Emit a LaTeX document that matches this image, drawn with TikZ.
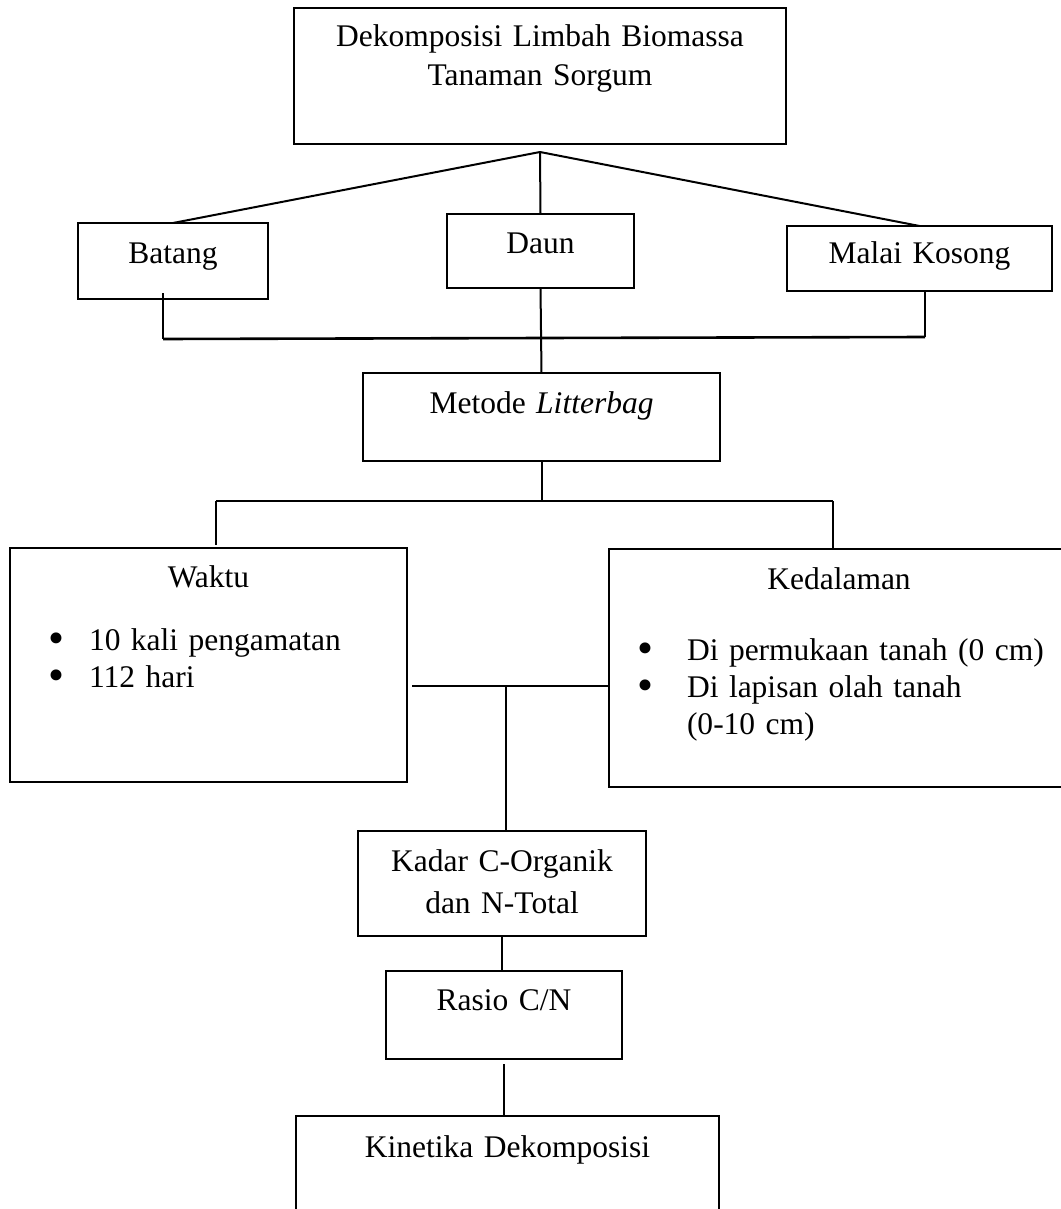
\documentclass[tikz,border=0pt]{standalone}
\usepackage{fontspec}
\setmainfont{Liberation Serif}
\newcommand{\titik}{\smash{\raisebox{-3pt}{\scalebox{1.45}{\textbullet}}}}

\begin{document}
\begin{tikzpicture}[x=1pt,y=-1pt,
kotak/.style={draw,line width=1.6pt,inner sep=0pt,outer sep=0pt,anchor=north west,align=center,font=\fontsize{31.5}{39}\selectfont},
daftar/.style={kotak,align=left,font=\fontsize{31.5}{37}\selectfont},
garis/.style={line width=2pt},
jalur/.style={line width=2.6pt}]
\useasboundingbox (0,0) rectangle (1060,1209);
\node[kotak,text width=492pt,text height=39pt,text depth=97pt] (limbah) at (294,8) {Dekomposisi Limbah Biomassa\\Tanaman Sorgum};
\node[kotak,text width=190pt,text height=40pt,text depth=36pt] (batang) at (78,223) {Batang};
\node[kotak,text width=187pt,text height=39pt,text depth=35pt] (daun) at (447,214) {Daun};
\node[kotak,text width=265pt,text height=37pt,text depth=28pt] (malai) at (787,226) {Malai Kosong};
\node[kotak,text width=357pt,text height=40pt,text depth=48pt] (metode) at (363,373) {Metode \textit{Litterbag}};
\node[daftar,text width=397pt,text height=39pt,text depth=195pt] (waktu) at (10,548)
{\makebox[\hsize]{Waktu}\\[26pt]
\makebox[79pt][l]{\hspace*{38pt}\titik}10 kali pengamatan\\
\makebox[79pt][l]{\hspace*{38pt}\titik}112 hari};
\node[daftar,text width=460pt,text height=40pt,text depth=198pt] (dalam) at (609,549)
{\makebox[\hsize]{Kedalaman}\\[34pt]
\makebox[78pt][l]{\hspace*{28pt}\titik}Di permukaan tanah (0 cm)\\
\makebox[78pt][l]{\hspace*{28pt}\titik}Di lapisan olah tanah\\
\hspace*{78pt}(0-10 cm)};
\node[kotak,text width=288pt,text height=40pt,text depth=65pt,font=\fontsize{31.5}{42}\selectfont] (kadar) at (358,831) {Kadar C-Organik\\dan N-Total};
\node[kotak,text width=236pt,text height=39pt,text depth=49pt] (rasio) at (386,971) {Rasio C/N};
\node[kotak,text width=423pt,text height=41pt,text depth=120pt] (kinetika) at (296,1116) {Kinetika Dekomposisi};

\coordinate (cabang) at (540,152);
\draw[garis] (cabang) -- (batang.north);
\draw[garis] (cabang) -- (daun.north);
\draw[garis] (cabang) -- (malai.north);

\coordinate (bus kiri) at (163,339);
\coordinate (bus kanan) at (925,337);
\draw[garis] ([yshift=6pt]batang.south -| bus kiri) -- (bus kiri);
\draw[garis] ([yshift=1pt]malai.south -| bus kanan) -- (bus kanan);
\draw[jalur] (bus kiri) -- (bus kanan);
\draw[garis] (daun.south) -- (metode.north);

\coordinate (bagi kiri) at (216,501);
\coordinate (bagi kanan) at (833,501);
\draw[garis] (metode.south) -- (metode.south |- bagi kiri);
\draw[jalur] (bagi kiri) -- (bagi kanan);
\draw[garis] (bagi kiri) -- ([yshift=3pt]bagi kiri |- waktu.north);
\draw[garis] (bagi kanan) -- (bagi kanan |- dalam.north);

\coordinate (temu) at (506,686);
\draw[jalur] ([xshift=5pt]waktu.east |- temu) -- (dalam.west |- temu);
\draw[garis] (temu) -- (temu |- kadar.north);
\draw[garis] (kadar.south) -- (kadar.south |- rasio.north);
\draw[garis] ([yshift=-5pt]rasio.south) -- (rasio.south |- kinetika.north);
\end{tikzpicture}
\end{document}
